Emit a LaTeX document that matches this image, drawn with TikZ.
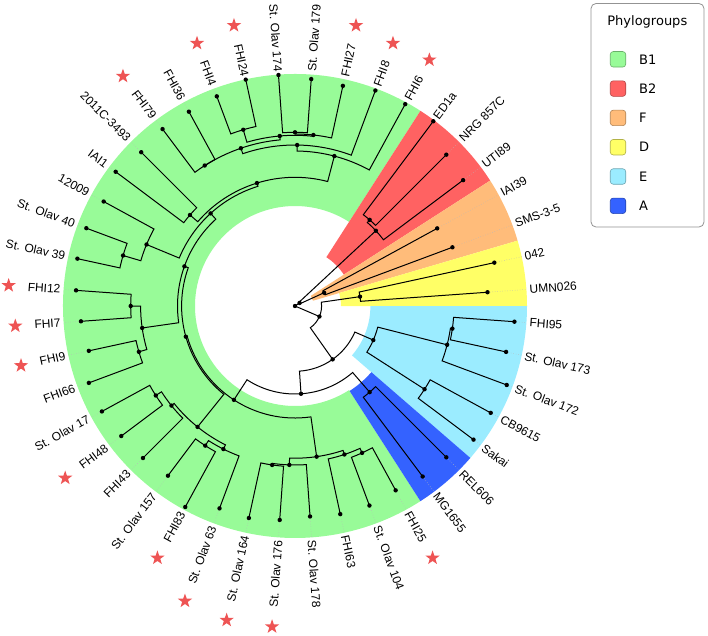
\documentclass[tikz,border=0pt]{standalone}
\usepackage{fontspec}
\setmainfont{Liberation Sans}
\newfontfamily\legfont{DejaVu Sans}
\usetikzlibrary{shapes.geometric,calc}
\definecolor{cB1}{RGB}{152,251,152}
\definecolor{cB2}{RGB}{255,98,98}
\definecolor{cF}{RGB}{255,188,122}
\definecolor{cD}{RGB}{255,255,102}
\definecolor{cE}{RGB}{155,236,255}
\definecolor{cA}{RGB}{52,98,255}
\definecolor{starred}{RGB}{238,84,84}
\newcommand\clsector[4]{\fill[#1] (#2:#4) arc[start angle=#2, end angle=#3, radius=#4] -- (#3:232) arc[start angle=#3, end angle=#2, radius=232] -- cycle;}
\newcommand\cladejoin[5]{\draw[br] (#3) -- (#2:#1) arc[start angle=#2, end angle=#4, radius=#1] -- (#5);}
\newcommand\leaf[4]{%
  \pgfmathsetmacro\lang{(6.5-#1)*360/44}%
  \pgfmathtruncatemacro\lright{cos(\lang)>0 ? 1 : 0}%
  \coordinate (l#1) at (\lang:#2);
  \draw[leader] (l#1) -- (\lang:232);
  \ifnum\lright=1
    \node[leaflab,anchor=west,rotate=\lang] (t#1) at (\lang:235) {#3};
    \ifnum#4=1 \node[starmark] at ($(t#1.east)+(\lang:19)$) {};\fi
  \else
    \node[leaflab,anchor=east,rotate=\lang+180] (t#1) at (\lang:235) {#3};
    \ifnum#4=1 \node[starmark] at ($(t#1.west)+(\lang:19)$) {};\fi
  \fi
}
\begin{document}
\begin{tikzpicture}[x=1pt,y=1pt,
  br/.style={line width=1pt, black},
  leader/.style={gray!55, dotted, line width=0.5pt},
  leaflab/.style={inner sep=0pt, font=\fontsize{12}{14}\selectfont},
  starmark/.style={star, star points=5, star point ratio=2.5, fill=starred, draw=none, inner sep=0pt, minimum size=15pt},
  dotmark/.style={fill=black},
  swatch/.style={rectangle, rounded corners=3pt, minimum size=15.5pt, inner sep=0pt, line width=0.6pt},
  legtext/.style={inner sep=0pt, font=\legfont\fontsize{13}{15}\selectfont}]
\useasboundingbox (-295,-329) rectangle (413,306);
% clade sectors
\clsector{cB1}{-57.273}{-302.727}{100}
\clsector{cB2}{57.273}{32.727}{58}
\clsector{cF}{32.727}{16.364}{18.75}
\clsector{cD}{16.364}{0}{46}
\clsector{cE}{0}{-40.909}{75.4}
\clsector{cA}{-40.909}{-57.273}{101}
% leaves
\leaf{0}{230.8}{ED1a}{0}
\leaf{1}{214}{NRG 857C}{0}
\leaf{2}{210}{UTI89}{0}
\leaf{3}{162}{IAI39}{0}
\leaf{4}{168}{SMS-3-5}{0}
\leaf{5}{204}{042}{0}
\leaf{6}{193}{UMN026}{0}
\leaf{7}{220}{FHI95}{0}
\leaf{8}{216}{St. Olav 173}{0}
\leaf{9}{226}{St. Olav 172}{0}
\leaf{10}{223}{CB9615}{0}
\leaf{11}{223}{Sakai}{0}
\leaf{12}{214}{REL606}{0}
\leaf{13}{213}{MG1655}{0}
\leaf{14}{210}{FHI25}{1}
\leaf{15}{213}{St. Olav 104}{0}
\leaf{16}{213}{FHI63}{0}
\leaf{17}{211}{St. Olav 178}{0}
\leaf{18}{214.5}{St. Olav 176}{1}
\leaf{19}{217}{St. Olav 164}{1}
\leaf{20}{216}{St. Olav 63}{1}
\leaf{21}{229}{FHI83}{1}
\leaf{22}{212}{St. Olav 157}{0}
\leaf{23}{215}{FHI43}{0}
\leaf{24}{217}{FHI48}{1}
\leaf{25}{220}{St. Olav 17}{0}
\leaf{26}{220}{FHI66}{0}
\leaf{27}{211}{FHI9}{1}
\leaf{28}{214.6}{FHI7}{1}
\leaf{29}{219.5}{FHI12}{1}
\leaf{30}{222.7}{St. Olav 39}{0}
\leaf{31}{222.7}{St. Olav 40}{0}
\leaf{32}{218}{12009}{0}
\leaf{33}{224}{IAI1}{0}
\leaf{34}{217.5}{2011C-3493}{0}
\leaf{35}{221}{FHI79}{1}
\leaf{36}{221.4}{FHI36}{0}
\leaf{37}{223.8}{FHI4}{1}
\leaf{38}{231.7}{FHI24}{1}
\leaf{39}{231.6}{St. Olav 174}{0}
\leaf{40}{227.5}{St. Olav 179}{0}
\leaf{41}{225.3}{FHI27}{1}
\leaf{42}{230}{FHI8}{1}
\leaf{43}{230}{FHI6}{1}
% internal nodes
\coordinate (root) at (0,0);
\coordinate (nEN) at (49.091:114);
\coordinate (nB2) at (42.955:110.5);
\coordinate (nF) at (24.545:32);
\coordinate (nX) at (33.75:5.5);
\coordinate (nD) at (8.182:65.7);
\coordinate (nE1) at (-8.182:159);
\coordinate (nE2) at (-14.318:157);
\coordinate (nE3) at (-32.727:154);
\coordinate (nE) at (-23.523:85.4);
\coordinate (nA) at (-49.091:114);
\coordinate (nR1a) at (-65.455:161.5);
\coordinate (nR1) at (-71.591:156.5);
\coordinate (nL1a) at (-98.182:160.6);
\coordinate (nL1) at (-92.045:159);
\coordinate (nBot) at (-81.818:152.2);
\coordinate (nFS) at (-122.727:166);
\coordinate (nM1a) at (-116.591:160);
\coordinate (nFO) at (-147.273:165.5);
\coordinate (nM1b) at (-141.136:158.7);
\coordinate (nM1) at (-128.864:155.3);
\coordinate (nP1) at (-180:164.3);
\coordinate (nP2) at (-163.636:162.7);
\coordinate (nP) at (-171.818:154.4);
\coordinate (nQ1) at (-196.364:179.2);
\coordinate (nQ) at (-202.5:160.7);
\coordinate (nI) at (-220.909:139);
\coordinate (nFF) at (-237.273:167);
\coordinate (nF24) at (-253.636:183.7);
\coordinate (nSS) at (-270:173.7);
\coordinate (nSF) at (-276.136:172);
\coordinate (nV2) at (-264.886:170.7);
\coordinate (nV1) at (-251.080:166.8);
\coordinate (nV0) at (-270.767:161);
\coordinate (nU2) at (-284.702:155);
\coordinate (nU) at (-252.805:128.7);
\coordinate (nS) at (-227.653:125.3);
\coordinate (nM2) at (-199.735:117.5);
\coordinate (nM) at (-164.300:113.4);
\coordinate (nB1) at (-123.059:112);
\coordinate (nW) at (-86.075:88);
\coordinate (nZ) at (-54.799:65.3);
\coordinate (nY) at (-23.309:26.6);
% branches
\cladejoin{114}{53.182}{l0}{45}{l1}
\cladejoin{110.5}{49.091}{nEN}{36.818}{l2}
\cladejoin{32}{28.636}{l3}{20.455}{l4}
\cladejoin{5.5}{42.955}{nB2}{24.545}{nF}
\cladejoin{65.7}{12.273}{l5}{4.091}{l6}
\cladejoin{159}{-4.091}{l7}{-12.273}{l8}
\cladejoin{157}{-8.182}{nE1}{-20.455}{l9}
\cladejoin{154}{-28.636}{l10}{-36.818}{l11}
\cladejoin{85.4}{-14.318}{nE2}{-32.727}{nE3}
\cladejoin{114}{-45}{l12}{-53.182}{l13}
\cladejoin{161.5}{-61.364}{l14}{-69.545}{l15}
\cladejoin{156.5}{-65.455}{nR1a}{-77.727}{l16}
\cladejoin{160.6}{-94.091}{l18}{-102.273}{l19}
\cladejoin{159}{-85.909}{l17}{-98.182}{nL1a}
\cladejoin{152.2}{-71.591}{nR1}{-92.045}{nL1}
\cladejoin{166}{-118.636}{l21}{-126.818}{l22}
\cladejoin{160}{-110.455}{l20}{-122.727}{nFS}
\cladejoin{165.5}{-143.182}{l24}{-151.364}{l25}
\cladejoin{158.7}{-135}{l23}{-147.273}{nFO}
\cladejoin{155.3}{-116.591}{nM1a}{-141.136}{nM1b}
\cladejoin{164.3}{-175.909}{l28}{-184.091}{l29}
\cladejoin{162.7}{-159.545}{l26}{-167.727}{l27}
\cladejoin{154.4}{-163.636}{nP2}{-180}{nP1}
\cladejoin{179.2}{-192.273}{l30}{-200.455}{l31}
\cladejoin{160.7}{-196.364}{nQ1}{-208.636}{l32}
\cladejoin{139}{-216.818}{l33}{-225}{l34}
\cladejoin{167}{-233.182}{l35}{-241.364}{l36}
\cladejoin{183.7}{-249.545}{l37}{-257.727}{l38}
\cladejoin{173.7}{-265.909}{l39}{-274.091}{l40}
\cladejoin{172}{-270}{nSS}{-282.273}{l41}
\cladejoin{170.7}{-253.636}{nF24}{-276.136}{nSF}
\cladejoin{166.8}{-237.273}{nFF}{-264.886}{nV2}
\cladejoin{161}{-251.080}{nV1}{-290.455}{l42}
\cladejoin{155}{-270.767}{nV0}{-298.636}{l43}
\cladejoin{128.7}{-220.909}{nI}{-284.702}{nU2}
\cladejoin{125.3}{-202.5}{nQ}{-252.805}{nU}
\cladejoin{117.5}{-171.818}{nP}{-227.653}{nS}
\cladejoin{113.4}{-128.864}{nM1}{-199.735}{nM2}
\cladejoin{112}{-81.818}{nBot}{-164.3}{nM}
\cladejoin{88}{-49.091}{nA}{-123.059}{nB1}
\cladejoin{65.3}{-23.523}{nE}{-86.075}{nW}
\cladejoin{26.6}{8.182}{nD}{-54.799}{nZ}
\draw[br] (nX) -- (root) -- (nY);
% dots
\foreach \k in {0,...,43} {\fill[dotmark] (l\k) circle (2.2);}
\foreach \n in {root,nEN,nB2,nF,nX,nD,nE1,nE2,nE3,nE,nA,nR1a,nR1,nL1a,nL1,nBot,nFS,nM1a,nFO,nM1b,nM1,nP1,nP2,nP,nQ1,nQ,nI,nFF,nF24,nSS,nSF,nV2,nV1,nV0,nU2,nU,nS,nM2,nM,nB1,nW,nZ,nY} {\fill[dotmark] (\n) circle (2.2);}
% legend
\draw[rounded corners=5pt, draw=gray!85, line width=0.8pt, fill=white] (296,302.5) rectangle (409,79);
\node[legtext] (legtitle) at (352.3,284.3) {Phylogroups};
\foreach \c/\t [count=\i from 0] in {cB1/B1,cB2/B2,cF/F,cD/D,cE/E,cA/A} {
  \node[swatch, fill=\c, draw=\c!70!black] (sw\i) at (323, 246.7-29.3*\i) {};
  \node[legtext, anchor=west] (lt\i) at (344, 246.7-29.3*\i) {\t};
}
\end{tikzpicture}
\end{document}
